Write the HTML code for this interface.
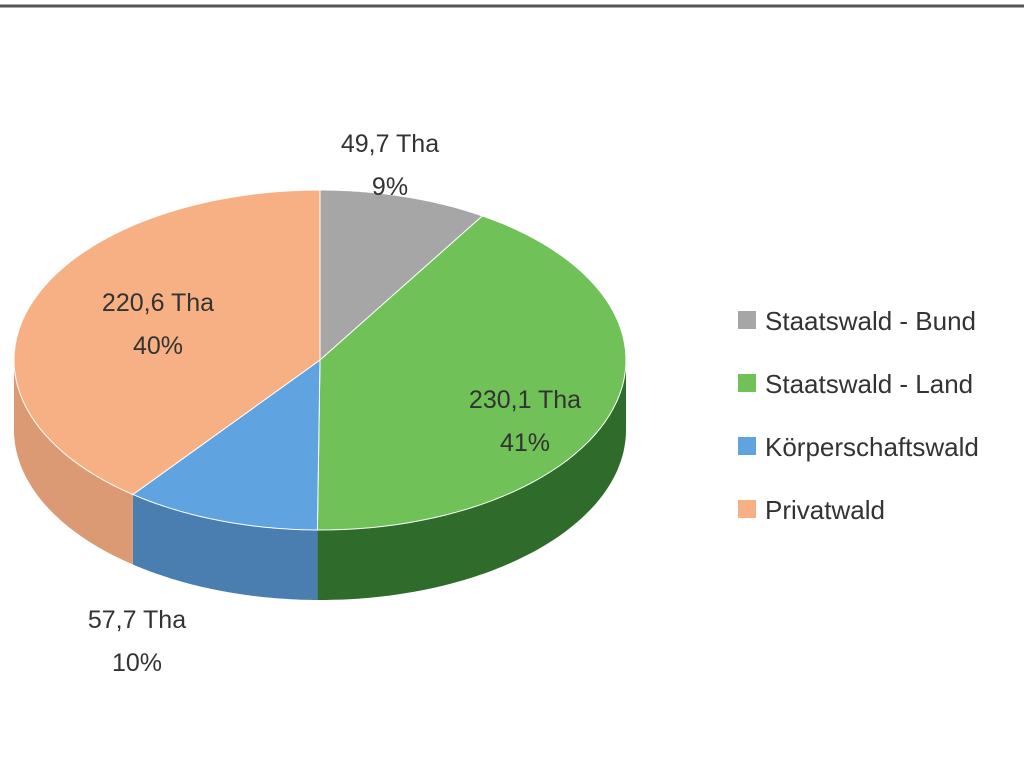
<!DOCTYPE html>
<html><head><meta charset="utf-8"><style>
body{margin:0;background:#fff;width:1024px;height:768px;overflow:hidden;font-family:"Liberation Sans",sans-serif}
</style></head><body>
<svg id="chart" width="1024" height="768" xmlns="http://www.w3.org/2000/svg">
<rect x="0" y="0" width="1024" height="768" fill="#fff"/>
<line x1="0" y1="6" x2="1024" y2="6" stroke="#555" stroke-width="3"/>
<g id="pie"></g>
<g id="labels" font-size="25" fill="#333" text-anchor="middle"></g>
<g id="legend" font-size="26" fill="#333"></g>
</svg>
<script>
const categories = ["Staatswald - Bund","Staatswald - Land","Körperschaftswald","Privatwald"];
const values = [49.7, 230.1, 57.7, 220.6];
const valueLabels = ["49,7 Tha","230,1 Tha","57,7 Tha","220,6 Tha"];
const pctLabels = ["9%","41%","10%","40%"];
const topColors = ["#a6a6a6","#70c157","#5fa4e0","#f7b084"];
const sideColors = ["#7a7a7a","#2f6b2a","#4a7db0","#dc9a74"];
const NS="http://www.w3.org/2000/svg";
const cx=320, cy=360, rx=306, ry=170, depth=70;
const labelPos=[[390,152],[525,408],[137,628],[158,311]];
const total=values.reduce((a,b)=>a+b,0);
function pt(t,dy){return [cx+rx*Math.sin(t), cy-ry*Math.cos(t)+(dy||0)];}
function arc(t0,t1,dy){let s="";const n=60;for(let i=0;i<=n;i++){const p=pt(t0+(t1-t0)*i/n,dy);s+=(i?"L":"")+p[0].toFixed(1)+","+p[1].toFixed(1);}return s;}
const pie=document.getElementById("pie");
let angles=[];let acc=0;
values.forEach(v=>{const a0=acc/total*2*Math.PI;acc+=v;angles.push([a0,acc/total*2*Math.PI]);});
// sides
angles.forEach(([a0,a1],i)=>{
  const s=Math.max(a0,Math.PI/2), e=Math.min(a1,3*Math.PI/2);
  if(e<=s) return;
  const pts=[];const n=60;
  for(let k=0;k<=n;k++)pts.push(pt(s+(e-s)*k/n,0));
  for(let k=n;k>=0;k--)pts.push(pt(s+(e-s)*k/n,depth));
  const p=document.createElementNS(NS,"path");
  p.setAttribute("d","M"+pts.map(q=>q[0].toFixed(1)+","+q[1].toFixed(1)).join("L")+"Z");
  p.setAttribute("fill",sideColors[i]);
  
  
  pie.appendChild(p);
});
// tops
angles.forEach(([a0,a1],i)=>{
  const p=document.createElementNS(NS,"path");
  p.setAttribute("d","M"+cx+","+cy+"L"+arc(a0,a1,0)+"Z");
  p.setAttribute("fill",topColors[i]);
  p.setAttribute("stroke","#fff");p.setAttribute("stroke-width","1");
  
  
  pie.appendChild(p);
});
const lab=document.getElementById("labels");
values.forEach((v,i)=>{
  [valueLabels[i],pctLabels[i]].forEach((t,j)=>{
    const e=document.createElementNS(NS,"text");
    e.setAttribute("x",labelPos[i][0]);e.setAttribute("y",labelPos[i][1]+j*43);
    e.textContent=t;
    
    
    lab.appendChild(e);
  });
});
const leg=document.getElementById("legend");
categories.forEach((c,i)=>{
  const y=330+i*63;
  const r=document.createElementNS(NS,"rect");
  r.setAttribute("x",738);r.setAttribute("y",y-19);r.setAttribute("width",18);r.setAttribute("height",18);
  r.setAttribute("fill",topColors[i]);
  
  
  leg.appendChild(r);
  const t=document.createElementNS(NS,"text");
  t.setAttribute("x",765);t.setAttribute("y",y);t.textContent=c;
  
  
  leg.appendChild(t);
});
</script>
</body></html>
